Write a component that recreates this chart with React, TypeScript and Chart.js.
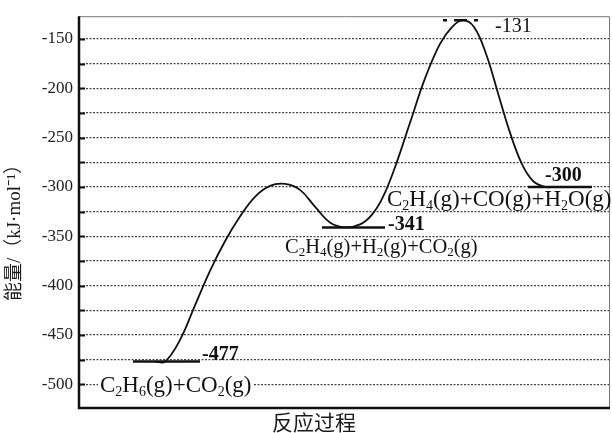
import React, { useEffect, useRef } from "react";
import { Chart, registerables } from "chart.js";

Chart.register(...registerables);

// Reaction coordinate (arbitrary units along the reaction path) and energies (kJ/mol)
const curveX = [76, 86, 101, 116, 131, 146, 161, 176, 191, 206, 221, 236, 251, 266, 281, 293, 304, 316, 331, 346, 361, 373, 384, 395, 407, 419, 431, 443, 454, 466, 476];
const curveY = [-477, -477, -455, -420, -385, -355, -330, -310, -299, -297, -303, -320, -336, -341, -338, -328, -310, -280, -235, -190, -155, -138, -131, -138, -165, -205, -245, -277, -294, -300, -300];

// Energy levels: [xStart, xEnd, energy]
const levelStart = [54, 243, 449];
const levelEnd = [121, 306, 513];
const levelEnergy = [-477, -341, -300];
const tsLevel = [364, 401, -131];

const yTickLabels = [-150, -200, -250, -300, -350, -400, -450, -500];
const yMin = -524;
const yMax = -127;

const valueLabels = ["-477", "-341", "-300", "-131"];
const valueLabelPos = [
  [123, -470],
  [309, -338],
  [466, -289],
  [416, -138],
];
const valueLabelBold = [true, true, true, false];

const speciesLabels = ["C_2H_6(g)+CO_2(g)", "C_2H_4(g)+H_2(g)+CO_2(g)", "C_2H_4(g)+CO(g)+H_2O(g)"];
const speciesPos = [
  [21, -502],
  [206, -361],
  [308, -313],
];
const speciesSize = [23, 20.5, 23];
const speciesBg = [true, false, false];

const yTitle = "能量/（kJ·mol⁻¹）";
const xTitle = "反应过程";

const SERIF = "'Liberation Serif', 'DejaVu Serif', serif";
const CJK = "'Noto Sans CJK SC', 'Noto Sans', sans-serif";

function parseChem(s: string) {
  const parts: { t: string; sub: boolean }[] = [];
  let i = 0;
  while (i < s.length) {
    if (s[i] === "_") {
      parts.push({ t: s[i + 1], sub: true });
      i += 2;
    } else {
      parts.push({ t: s[i], sub: false });
      i += 1;
    }
  }
  return parts;
}

const overlayPlugin = {
  id: "overlay",
  afterDatasetsDraw(chart: any) {
    const ctx = chart.ctx as CanvasRenderingContext2D;
    const xs = chart.scales.x;
    const ys = chart.scales.y;
    const area = chart.chartArea;
    ctx.save();

    // inward tick marks
    ctx.strokeStyle = "#111";
    ctx.lineWidth = 2;
    for (let v = -500; v <= -150; v += 25) {
      const py = Math.round(ys.getPixelForValue(v)) + 0.5;
      ctx.beginPath();
      ctx.moveTo(area.left, py);
      ctx.lineTo(area.left + 6, py);
      ctx.stroke();
    }

    // frame
    ctx.strokeStyle = "#777";
    ctx.lineWidth = 1;
    ctx.beginPath();
    ctx.moveTo(area.left, area.top + 0.5);
    ctx.lineTo(area.right - 0.5, area.top + 0.5);
    ctx.lineTo(area.right - 0.5, area.bottom);
    ctx.stroke();
    ctx.strokeStyle = "#111";
    ctx.lineWidth = 2.5;
    ctx.beginPath();
    ctx.moveTo(area.left, area.top);
    ctx.lineTo(area.left, area.bottom);
    ctx.lineTo(area.right, area.bottom);
    ctx.stroke();

    // value labels
    ctx.fillStyle = "#111";
    ctx.textBaseline = "middle";
    ctx.textAlign = "left";
    valueLabels.forEach((t, i) => {
      ctx.font = (valueLabelBold[i] ? "bold " : "") + "20px " + SERIF;
      ctx.fillText(t, xs.getPixelForValue(valueLabelPos[i][0]), ys.getPixelForValue(valueLabelPos[i][1]));
    });

    // species labels
    speciesLabels.forEach((s, i) => {
      const parts = parseChem(s);
      let x = xs.getPixelForValue(speciesPos[i][0]);
      const y = ys.getPixelForValue(speciesPos[i][1]);
      const sz = speciesSize[i];
      const main = sz + "px " + SERIF;
      const sub = Math.round(sz * 0.62) + "px " + SERIF;
      let total = 0;
      parts.forEach((p) => {
        ctx.font = p.sub ? sub : main;
        total += ctx.measureText(p.t).width;
      });
      if (speciesBg[i]) {
        ctx.fillStyle = "#fff";
        ctx.fillRect(x - 2, y - 11, total + 4, 24);
      }
      ctx.fillStyle = "#111";
      ctx.textBaseline = "middle";
      parts.forEach((p) => {
        ctx.font = p.sub ? sub : main;
        ctx.fillText(p.t, x, p.sub ? y + sz * 0.28 : y);
        x += ctx.measureText(p.t).width;
      });
    });

    // axis titles
    ctx.fillStyle = "#1a1a1a";
    ctx.font = "21px " + CJK;
    ctx.textAlign = "center";
    ctx.textBaseline = "middle";
    ctx.fillText(xTitle, 314, 422);
    ctx.save();
    ctx.translate(15, 228);
    ctx.rotate(-Math.PI / 2);
    ctx.font = "19px 'Liberation Serif', " + CJK;
    ctx.fillText(yTitle, 0, 0);
    ctx.restore();

    ctx.restore();
  },
};

export default function App() {
  const ref = useRef<HTMLCanvasElement | null>(null);
  useEffect(() => {
    if (!ref.current) return;
    const levelDatasets = levelEnergy.map((e, i) => ({
      data: [
        { x: levelStart[i], y: e },
        { x: levelEnd[i], y: e },
      ],
      borderColor: "#111",
      borderWidth: 2.5,
      pointRadius: 0,
      tension: 0,
    }));
    const chart = new Chart(ref.current, {
      type: "line",
      data: {
        datasets: [
          {
            data: curveX.map((x, i) => ({ x, y: curveY[i] })),
            borderColor: "#111",
            borderWidth: 1.8,
            pointRadius: 0,
            tension: 0.4,
          },
          ...levelDatasets,
          {
            data: [
              { x: tsLevel[0], y: tsLevel[2] },
              { x: tsLevel[1], y: tsLevel[2] },
            ],
            borderColor: "#111",
            borderWidth: 2.5,
            borderDash: [4, 7, 13, 7],
            pointRadius: 0,
          },
        ] as any,
      },
      plugins: [overlayPlugin],
      options: {
        animation: false,
        responsive: false,
        events: [],
        layout: { padding: { left: 0, right: 2, top: 12, bottom: 25 } },
        plugins: { legend: { display: false }, tooltip: { enabled: false } },
        scales: {
          x: { type: "linear", min: 0, max: 531, display: false },
          y: {
            type: "linear",
            min: yMin,
            max: yMax,
            afterFit: (scale: any) => {
              scale.width = 79;
            },
            border: { display: false, dash: [2, 1.5] },
            ticks: {
              stepSize: 25,
              padding: 6,
              color: "#222",
              font: { family: SERIF, size: 17 },
              callback: (v: any) => (yTickLabels.includes(Number(v)) ? String(v) : ""),
            },
            grid: {
              drawTicks: false,
              lineWidth: 1.3,
              color: (c: any) => (c.tick && Number(c.tick.value) % 25 === 0 && Number(c.tick.value) > -520 ? "#444" : "rgba(0,0,0,0)"),
            },
          },
        },
      } as any,
    });
    return () => chart.destroy();
  }, []);
  return (
    <div style={{ position: "fixed", left: 0, top: 0, width: 612, height: 433, background: "#fff" }}>
      <canvas ref={ref} width={612} height={433} />
    </div>
  );
}
